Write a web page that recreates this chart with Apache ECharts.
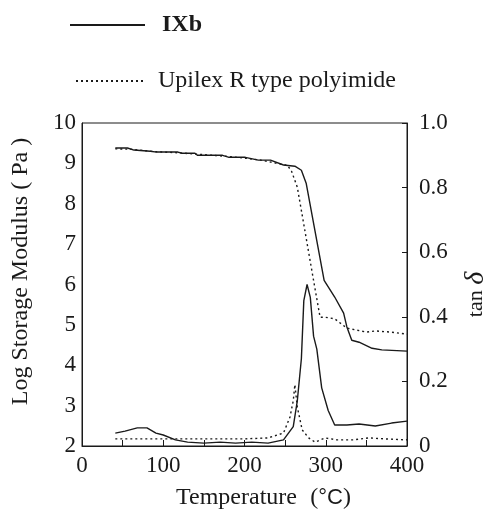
<!DOCTYPE html>
<html>
<head>
<meta charset="utf-8">
<script src="https://cdn.jsdelivr.net/npm/echarts@6/dist/echarts.min.js"></script>
<style>
  html, body { margin: 0; padding: 0; background: #fff; }
  #main { width: 498px; height: 515px; }
</style>
</head>
<body>
<div id="main"></div>
<script>
// storage modulus (log Pa), film IXb
var tempModIXb = [41, 56, 64, 84, 92, 118, 123, 139, 142, 173, 181, 201, 217, 232, 248, 262, 270, 276, 298, 311, 322, 326, 332, 341, 357, 369, 400];
var modIXb = [9.38, 9.38, 9.33, 9.30, 9.28, 9.28, 9.25, 9.25, 9.20, 9.20, 9.15, 9.15, 9.08, 9.08, 8.96, 8.93, 8.83, 8.5, 6.1, 5.69, 5.29, 4.95, 4.62, 4.57, 4.42, 4.38, 4.35];
// storage modulus, Upilex R
var tempModUp = [41, 60, 90, 120, 140, 175, 200, 220, 240, 253, 258, 265, 285, 293, 299, 311, 326, 338, 350, 361, 381, 400];
var modUp = [9.36, 9.35, 9.29, 9.26, 9.23, 9.18, 9.13, 9.08, 9.0, 8.95, 8.8, 8.41, 6.1, 5.19, 5.19, 5.15, 4.92, 4.87, 4.82, 4.85, 4.82, 4.77];
// tan delta, IXb
var tempTanIXb = [41, 53, 68, 80, 91, 100, 115, 130, 150, 170, 189, 209, 229, 248, 260, 265, 270, 273, 277, 281, 285, 289, 295, 303, 311, 326, 341, 361, 381, 400];
var tanIXb = [0.040, 0.046, 0.056, 0.056, 0.040, 0.034, 0.019, 0.012, 0.009, 0.012, 0.009, 0.012, 0.009, 0.019, 0.06, 0.14, 0.27, 0.45, 0.50, 0.46, 0.34, 0.30, 0.18, 0.11, 0.065, 0.065, 0.068, 0.062, 0.071, 0.077];
// tan delta, Upilex R
var tempTanUp = [41, 100, 150, 200, 229, 248, 256, 260, 262, 265, 271, 279, 287, 299, 314, 334, 353, 373, 400];
var tanUp = [0.022, 0.022, 0.022, 0.022, 0.025, 0.04, 0.09, 0.14, 0.19, 0.12, 0.05, 0.025, 0.012, 0.025, 0.019, 0.019, 0.025, 0.022, 0.019];

var nameIXb = 'IXb';
var nameUp = 'Upilex R type polyimide';

function pairs(xs, ys) {
    var out = [];
    for (var i = 0; i < xs.length; i++) out.push([xs[i], ys[i]]);
    return out;
}

var serif = 'Liberation Serif';
var ink = '#1a1a1a';
var solidLine = { color: ink, width: 1.4, type: 'solid' };
var dotLine = { color: ink, width: 1.4, type: [2, 3] };

var myChart = echarts.init(document.getElementById('main'));
var option = {
    animation: false,
    backgroundColor: '#fff',
    legend: [
        {
            left: 64, top: 8, itemWidth: 75, itemHeight: 14,
            itemStyle: { opacity: 0 },
            data: [{ name: nameIXb, textStyle: { fontWeight: 'bold' } }],
            textStyle: { fontFamily: serif, fontSize: 24, color: ink, padding: [0, 0, 0, 12] }
        },
        {
            left: 70, top: 64, itemWidth: 70, itemHeight: 14,
            itemStyle: { opacity: 0 },
            data: [nameUp],
            textStyle: { fontFamily: serif, fontSize: 24, color: ink, padding: [0, 0, 0, 7] }
        }
    ],
    grid: {
        left: 82, right: 75, top: 123, bottom: 69,
        show: true, borderColor: ink, borderWidth: 1, backgroundColor: 'transparent'
    },
    xAxis: {
        type: 'value', min: 0, max: 400, interval: 50,
        name: '{a|Temperature}    {a|(}{b|°C}{a|)}',
        nameLocation: 'middle', nameGap: 40,
        nameTextStyle: {
            padding: [0, 0, 0, 38],
            rich: {
                a: { fontFamily: serif, fontSize: 24, color: ink },
                b: { fontFamily: 'Liberation Sans', fontSize: 22, color: ink }
            }
        },
        axisLine: { lineStyle: { color: ink, width: 1 } },
        axisTick: { inside: true, length: 6, lineStyle: { color: ink } },
        axisLabel: {
            fontFamily: serif, fontSize: 23, color: ink, margin: 8,
            formatter: function (v) { return v % 100 === 0 ? String(v) : ''; }
        },
        splitLine: { show: false }
    },
    yAxis: [
        {
            type: 'value', min: 2, max: 10, interval: 1,
            name: 'Log Storage Modulus ( Pa )',
            nameLocation: 'middle', nameRotate: 90, nameGap: 49,
            nameTextStyle: { fontFamily: serif, fontSize: 24, color: ink, padding: [0, 0, 0, 26] },
            axisLine: { show: true, lineStyle: { color: ink, width: 1 } },
            axisTick: { show: false },
            axisLabel: { fontFamily: serif, fontSize: 23, color: ink, margin: 6 },
            splitLine: { show: false }
        },
        {
            type: 'value', min: 0, max: 1, interval: 0.2, position: 'right',
            name: '{a|tan }{b|δ}',
            nameLocation: 'middle', nameRotate: 90, nameGap: 55,
            nameTextStyle: {
                padding: [0, 20, 0, 0],
                rich: {
                    a: { fontFamily: serif, fontSize: 22, color: ink },
                    b: { fontFamily: serif, fontSize: 28, fontStyle: 'italic', color: ink }
                }
            },
            axisLine: { show: true, lineStyle: { color: ink, width: 1 } },
            axisTick: { inside: true, length: 5, lineStyle: { color: ink } },
            axisLabel: {
                fontFamily: serif, fontSize: 23, color: ink, margin: 12,
                formatter: function (v) { return v === 0 ? '0' : v.toFixed(1); }
            },
            splitLine: { show: false }
        }
    ],
    series: [
        { name: nameIXb, type: 'line', yAxisIndex: 0, symbol: 'none', lineStyle: solidLine, itemStyle: { color: ink }, data: pairs(tempModIXb, modIXb) },
        { name: nameUp, type: 'line', yAxisIndex: 0, symbol: 'none', lineStyle: dotLine, itemStyle: { color: ink }, data: pairs(tempModUp, modUp) },
        { name: nameIXb, type: 'line', yAxisIndex: 1, symbol: 'none', lineStyle: solidLine, itemStyle: { color: ink }, data: pairs(tempTanIXb, tanIXb) },
        { name: nameUp, type: 'line', yAxisIndex: 1, symbol: 'none', lineStyle: dotLine, itemStyle: { color: ink }, data: pairs(tempTanUp, tanUp) }
    ]
};
myChart.setOption(option);
</script>
</body>
</html>
